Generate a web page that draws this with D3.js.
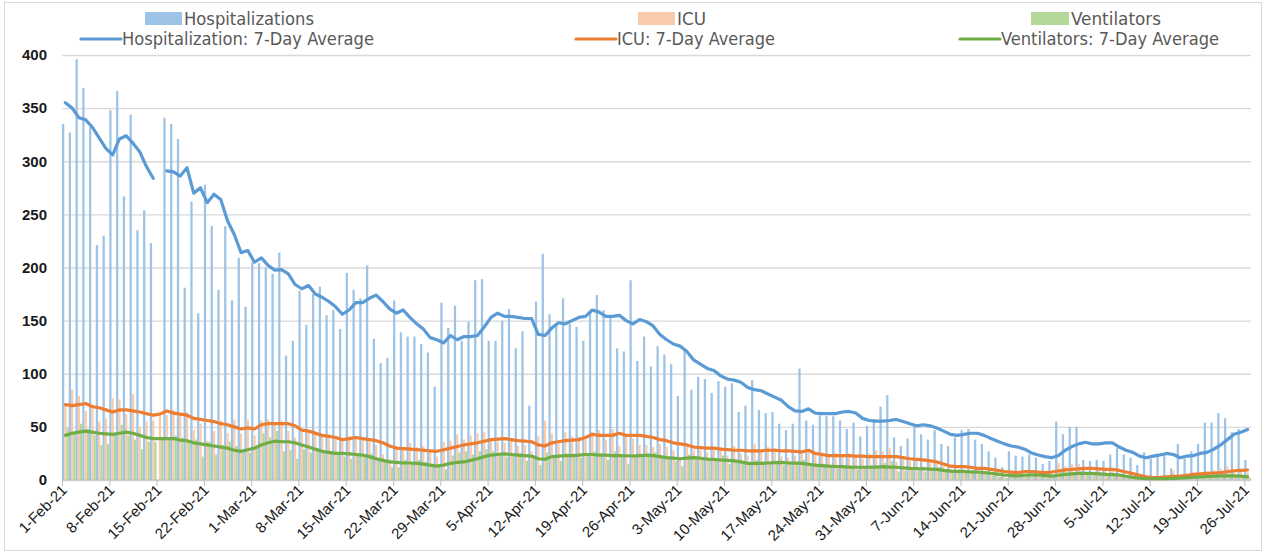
<!DOCTYPE html>
<html>
<head>
<meta charset="utf-8">
<script src="https://cdn.jsdelivr.net/npm/d3@7"></script>
<style>
  body { margin: 0; background: #fff; }
  svg { display: block; }
</style>
</head>
<body>
<script>
(()=>{
    const width = 1266;
    const height = 554;
    const marginLeft = 62;
    const plotRight = 1251;
    const yBottom = 480;
    const yTop = 55;

    // one entry per day, 1-Feb-21 .. 26-Jul-21
    const startDay = "2021-02-01";
    const endDay = "2021-07-27";

    const tickLabels = ["1-Feb-21", "8-Feb-21", "15-Feb-21", "22-Feb-21", "1-Mar-21", "8-Mar-21", "15-Mar-21",
        "22-Mar-21", "29-Mar-21", "5-Apr-21", "12-Apr-21", "19-Apr-21", "26-Apr-21", "3-May-21", "10-May-21",
        "17-May-21", "24-May-21", "31-May-21", "7-Jun-21", "14-Jun-21", "21-Jun-21", "28-Jun-21", "5-Jul-21",
        "12-Jul-21", "19-Jul-21", "26-Jul-21"];
    const yTicks = [0, 50, 100, 150, 200, 250, 300, 350, 400];

    // daily counts
    const hospitalizations = [
        335, 327, 396, 369, 332, 221, 230, 348, 366, 267, 344, 235, 254, 223, null,
        341, 335, 321, 181, 262, 157, 278, 239, 179, 239, 169, 209, 163, 205, 204, 200, 194, 214, 117, 131, 178,
        146, 175, 182, 155, 160, 142, 195, 179, 171, 202, 133, 110, 115, 169, 139, 135, 135, 128, 120, 88, 167,
        143, 164, 131, 149, 188, 189, 131, 131, 150, 161, 124, 140, 70, 168,
        213, 156, 147, 171, 147, 144, 131, 158, 174, 160, 153, 124, 121, 188, 112, 135, 107, 126, 118, 109, 79,
        122, 85, 97, 95, 82, 93, 88, 91, 64, 70, 94, 66, 63, 64, 53,
        47, 53, 105, 56, 52, 61, 60, 60, 56, 48, 54, 41, 51, 57, 69, 80, 40, 32, 39, 52, 43, 38, 47, 34, 32,
        40, 47, 48, 38, 34, 27, 21, 12, 27, 23,
        22, 24, 21, 15, 18, 55, 43, 50, 50, 19, 18, 19, 18, 24, 30, 24, 21, 14, 26, 20, 25, 25, 11, 34, 20, 27,
        34, 54, 54, 63, 58, 45, 48, 19
    ];
    const icu = [
        70, 85, 79, 65, 67, 55, 58, 77, 76, 62, 81, 50, 55, 56, 60,
        61, 66, 62, 64, 47, 53, 37, 46, 56, 44, 57, 44, 57, 42, 56, 57, 53, 56, 46, 40, 45,
        44, 46, 42, 43, 40, 38, 41, 40, 39, 36, 33, 24, 20, 32, 30, 35, 31, 32, 27, 22, 36, 37, 43, 38, 42, 44,
        45, 37, 36, 35, 37, 32, 33, 27, 41,
        56, 44, 34, 45, 41, 41, 38, 45, 47, 38, 48, 32, 41, 39, 33, 33, 31, 34, 31, 28, 19, 31, 28, 28, 26, 28,
        31, 23, 32, 25, 23, 34, 28, 31, 30, 22,
        21, 23, 28, 26, 24, 26, 24, 26, 24, 25, 23, 20, 25, 28, 27, 30, 17, 22, 18, 19, 13, 16, 15, 13, 11, 9,
        10, 7, 10, 6, 4, 7, 4, 8, 5,
        4, 6, 4, 3, 5, 16, 13, 15, 15, 8, 7, 9, 8, 10, 6, 4, 3, 2, 2, 3, 4, 2, 9, 5, 6, 7, 6, 8, 9, 11, 13, 9, 10, 7
    ];
    const ventilators = [
        49, 45, 53, 48, 42, 33, 34, 44, 52, 42, 38, 29, 36, 36, 38,
        38, 42, 40, 35, 38, 22, 36, 24, 33, 36, 32, 27, 26, 31, 44, 40, 46, 27, 28, 20, 29,
        26, 30, 27, 26, 25, 22, 20, 23, 22, 25, 19, 17, 12, 12, 19, 17, 19, 17, 15, 14, 10, 23, 26, 27, 24, 27,
        29, 27, 23, 22, 23, 25, 18, 23, 14,
        26, 22, 18, 25, 24, 21, 23, 27, 25, 19, 27, 22, 15, 24, 23, 25, 26, 22, 21, 18, 13, 24, 22, 21, 18, 20,
        23, 15, 19, 17, 14, 19, 16, 17, 18, 14,
        15, 17, 19, 15, 13, 14, 12, 11, 14, 12, 10, 13, 14, 12, 16, 18, 8, 9, 12, 10, 8, 11, 12, 9, 8, 10, 7, 9,
        6, 5, 4, 3, 2, 5, 3,
        4, 5, 3, 2, 4, 8, 7, 6, 8, 6, 5, 6, 4, 5, 3, 2, 1, 0, 1, 1, 2, 1, 3, 3, 2, 4, 3, 4, 5, 4, 6, 3, 4, 2
    ];

    // 7-day averages
    const hospAvg = [
        355, 350, 341, 339, 332, 322, 312, 306, 321, 324, 317, 309, 295, 284, null,
        291, 290, 286, 294, 270, 275, 261, 269, 264, 244, 231, 214, 216, 205, 209, 202, 197.5, 198, 194, 184, 180,
        183, 175, 172, 168, 163, 156, 160, 167, 167, 171, 174, 168, 161, 157, 160, 153, 147, 142, 134, 132, 129,
        136, 132, 135, 135, 136, 144, 153, 157, 154, 154, 153, 152, 152, 137,
        136, 143, 148, 147, 150, 153, 154, 160, 158, 154, 154, 155, 150, 147, 151, 149, 145, 137, 132, 128, 126,
        121, 113, 109, 105, 103, 98, 95, 94, 92, 87, 85, 84, 81, 78, 75,
        69, 65, 64.5, 67, 63, 62.5, 62.5, 62.5, 64, 64.5, 63, 58, 56, 55.5, 55.5, 56, 57, 55, 53, 51, 52, 51, 49,
        46, 43, 42, 43, 44, 44, 42, 39, 36.5, 34, 32, 31,
        29, 25.5, 23.5, 22, 21, 23, 28, 31.5, 34, 35.5, 34, 34, 35, 35, 31, 28, 26, 22.5, 21, 22.5, 23.5, 25, 24,
        21, 22.5, 23, 25, 26, 29, 33, 38, 43, 45, 47.5
    ];
    const icuAvg = [
        71, 70, 71, 72, 69, 68, 66, 64, 66, 66, 65, 64, 62.5, 61, 62,
        65, 63, 62, 61, 58, 57, 56, 55, 53, 52, 50, 48, 49, 48, 52, 53, 53, 53, 53, 51, 47,
        46, 44, 42, 41, 40, 38, 39, 40, 39, 38, 37, 35, 32, 30, 29.5, 29, 28.5, 28, 27.5, 27, 28.5, 30, 31.5, 33,
        34, 35, 36.5, 38, 38.5, 39, 38, 37, 36.5, 36, 33,
        32, 35, 36, 37, 37.5, 38, 40, 43, 42, 42, 42, 44, 42, 42, 42, 41, 40, 38, 37, 35, 34, 33, 31, 30.5, 30,
        30, 29, 28.5, 28, 28, 27.5, 27.5, 27.5, 28, 28, 27.5,
        27.5, 27, 26.5, 28, 25, 24, 23, 23, 23, 23, 22.5, 22.5, 22, 22, 22, 22, 22, 21, 20, 19.5, 19, 18, 17, 15,
        13, 12.5, 12.5, 12, 11, 11, 10, 9, 8, 7.5, 7,
        8, 8, 7.5, 7, 7.5, 8.5, 9.5, 10, 10.5, 11, 11, 10.5, 10, 10, 9, 7.5, 6, 4.5, 3, 2.2, 2.5, 3, 3.5, 3.7, 4.5,
        5.3, 5.8, 6.2, 6.6, 7, 7.8, 8.7, 9, 9.4
    ];
    const ventAvg = [
        42, 44, 45, 46, 45, 44, 43.5, 43, 44, 45, 44, 42, 40, 39, 39,
        39, 39, 37.5, 37, 35, 34, 33, 32, 31, 30, 28, 27, 28.5, 30, 33, 35, 36.5, 36, 36, 35, 33,
        31, 29, 27, 26, 25, 25, 24.5, 24, 23.5, 22, 20, 18.5, 17, 16.5, 16, 16, 15.7, 15, 14, 13, 14, 15.7, 16.5,
        17, 18.5, 20, 22, 23.5, 24, 24.5, 24, 23.5, 23, 22.5, 20,
        19.5, 22, 22.5, 23, 23, 23.5, 24, 24, 23.5, 23.5, 23, 23, 22.8, 22.6, 23, 23.5, 23, 22, 21, 20.5, 20, 20.5,
        21, 20.5, 19.7, 19.3, 18.8, 18.4, 18, 17, 15.7, 15.7, 15.7, 16, 16.3, 16.6,
        16, 15.8, 15.6, 14.8, 14, 13.5, 13, 12.7, 12.5, 12.2, 12, 12, 12, 12.2, 12.5, 12.2, 12, 11.5, 11, 10.8,
        10.6, 10.3, 10, 9, 8.4, 8.2, 8, 7.7, 7.5, 6.9, 6.3, 5.5, 4.7, 4.2, 3.8,
        4.5, 4.8, 4.7, 4.2, 3.7, 4.5, 5.3, 5.8, 6.3, 6.3, 6.3, 5.8, 5.3, 5, 4.7, 3.5, 2.5, 1.8, 1.2, 1.2, 1.2, 1.3,
        1.5, 1.8, 2.2, 2.6, 3, 3.3, 3.7, 3.8, 4, 3.8, 3.7, 3
    ];

    const barSeries = [
        {key: "Hospitalizations", values: hospitalizations, color: "#9dc3e6"},
        {key: "ICU", values: icu, color: "#f8cbad"},
        {key: "Ventilators", values: ventilators, color: "#b4d79a"}
    ];
    const lineSeries = [
        {key: "Hospitalization: 7-Day Average", values: hospAvg, color: "#5b9bd5"},
        {key: "ICU: 7-Day Average", values: icuAvg, color: "#ed7d31"},
        {key: "Ventilators: 7-Day Average", values: ventAvg, color: "#70ad47"}
    ];

    const parseDay = d3.utcParse("%Y-%m-%d");
    const parseTick = d3.utcParse("%d-%b-%y");
    const days = d3.utcDay.range(parseDay(startDay), parseDay(endDay));

    const x = d3.scaleUtc()
        .domain([parseDay(startDay), parseDay(endDay)])
        .range([marginLeft, plotRight]);
    const dayW = x(days[1]) - x(days[0]);

    // three bars side by side inside each day
    const sub = d3.scaleBand()
        .domain(barSeries.map(d => d.key))
        .range([0, dayW])
        .paddingInner(0);

    const y = d3.scaleLinear()
        .domain([0, 400])
        .range([yBottom, yTop]);

    const svg = d3.create("svg")
        .attr("width", width)
        .attr("height", height)
        .attr("viewBox", [0, 0, width, height]);

    // chart frame
    svg.append("rect")
        .attr("x", 4.5).attr("y", 2.5)
        .attr("width", width - 9).attr("height", height - 6)
        .attr("fill", "none")
        .attr("stroke", "#d9d9d9");

    // gridlines + y labels
    svg.append("g")
        .attr("transform", `translate(${marginLeft},0)`)
        .call(d3.axisLeft(y).tickValues(yTicks).tickSize(-(plotRight - marginLeft)).tickPadding(15))
        .call(g => g.select(".domain").remove())
        .call(g => g.selectAll(".tick line").attr("stroke", "#d9d9d9").attr("stroke-width", 1.3))
        .call(g => g.selectAll(".tick text")
            .attr("font-family", "Liberation Sans, Arial, sans-serif")
            .attr("font-size", 15)
            .attr("font-weight", "bold")
            .attr("fill", "#1a1a1a"));

    // bars
    svg.append("g")
        .selectAll("g")
        .data(barSeries)
        .join("g")
        .attr("fill", s => s.color)
        .selectAll("rect")
        .data(s => s.values.map((v, i) => ({key: s.key, v, day: days[i]})).filter(d => d.v != null))
        .join("rect")
        .attr("x", d => x(d.day) + sub(d.key))
        .attr("y", d => y(d.v))
        .attr("width", sub.bandwidth())
        .attr("height", d => y(0) - y(d.v));

    // x axis
    svg.append("g")
        .attr("transform", `translate(0,${yBottom})`)
        .call(d3.axisBottom(x).tickValues(tickLabels.map(parseTick)).tickSize(6).tickFormat(""))
        .call(g => g.select(".domain").attr("stroke", "#bfbfbf").attr("d", `M${marginLeft},0H${plotRight}`))
        .call(g => g.selectAll(".tick line").attr("stroke", "#bfbfbf"));

    svg.append("g")
        .selectAll("text")
        .data(tickLabels)
        .join("text")
        .attr("transform", d => `translate(${x(parseTick(d)) + 6},${yBottom + 11}) rotate(-45)`)
        .attr("text-anchor", "end")
        .attr("font-family", "Liberation Sans, Arial, sans-serif")
        .attr("font-size", 15)
        .attr("fill", "#1a1a1a")
        .text(d => d);

    // 7-day average lines
    const line = d3.line()
        .defined(d => d != null)
        .x((d, i) => x(days[i]) + dayW / 2)
        .y(d => y(d));

    svg.append("g")
        .selectAll("path")
        .data(lineSeries)
        .join("path")
        .attr("fill", "none")
        .attr("stroke", s => s.color)
        .attr("stroke-width", 3.2)
        .attr("stroke-linejoin", "round")
        .attr("stroke-linecap", "round")
        .attr("d", s => line(s.values));

    // legend
    const legendFont = "Liberation Sans Narrow, DejaVu Sans Condensed, sans-serif";
    const legendTop = [
        {x: 145, w: 37, textW: 130},
        {x: 638, w: 37, textW: 29},
        {x: 1031, w: 38, textW: 90}
    ];
    const legendBottom = [
        {x: 81, w: 40, textW: 252},
        {x: 576, w: 40, textW: 158},
        {x: 960, w: 40, textW: 218}
    ];

    const lt = svg.append("g").selectAll("g")
        .data(barSeries)
        .join("g");
    lt.append("rect")
        .attr("x", (d, i) => legendTop[i].x)
        .attr("y", 12)
        .attr("width", (d, i) => legendTop[i].w)
        .attr("height", 13)
        .attr("fill", d => d.color);
    lt.append("text")
        .attr("x", (d, i) => legendTop[i].x + legendTop[i].w + 2)
        .attr("y", 25)
        .attr("font-family", legendFont)
        .attr("font-size", 17)
        .attr("fill", "#595959")
        .attr("textLength", (d, i) => legendTop[i].textW)
        .attr("lengthAdjust", "spacingAndGlyphs")
        .text(d => d.key);

    const lb = svg.append("g").selectAll("g")
        .data(lineSeries)
        .join("g");
    lb.append("line")
        .attr("x1", (d, i) => legendBottom[i].x)
        .attr("x2", (d, i) => legendBottom[i].x + legendBottom[i].w)
        .attr("y1", 39).attr("y2", 39)
        .attr("stroke", d => d.color)
        .attr("stroke-width", 3.2)
        .attr("stroke-linecap", "round");
    lb.append("text")
        .attr("x", (d, i) => legendBottom[i].x + legendBottom[i].w + 1)
        .attr("y", 45)
        .attr("font-family", legendFont)
        .attr("font-size", 17)
        .attr("fill", "#595959")
        .attr("textLength", (d, i) => legendBottom[i].textW)
        .attr("lengthAdjust", "spacingAndGlyphs")
        .text(d => d.key);

    d3.select("body").append(() => svg.node());
})()
</script>
</body>
</html>
